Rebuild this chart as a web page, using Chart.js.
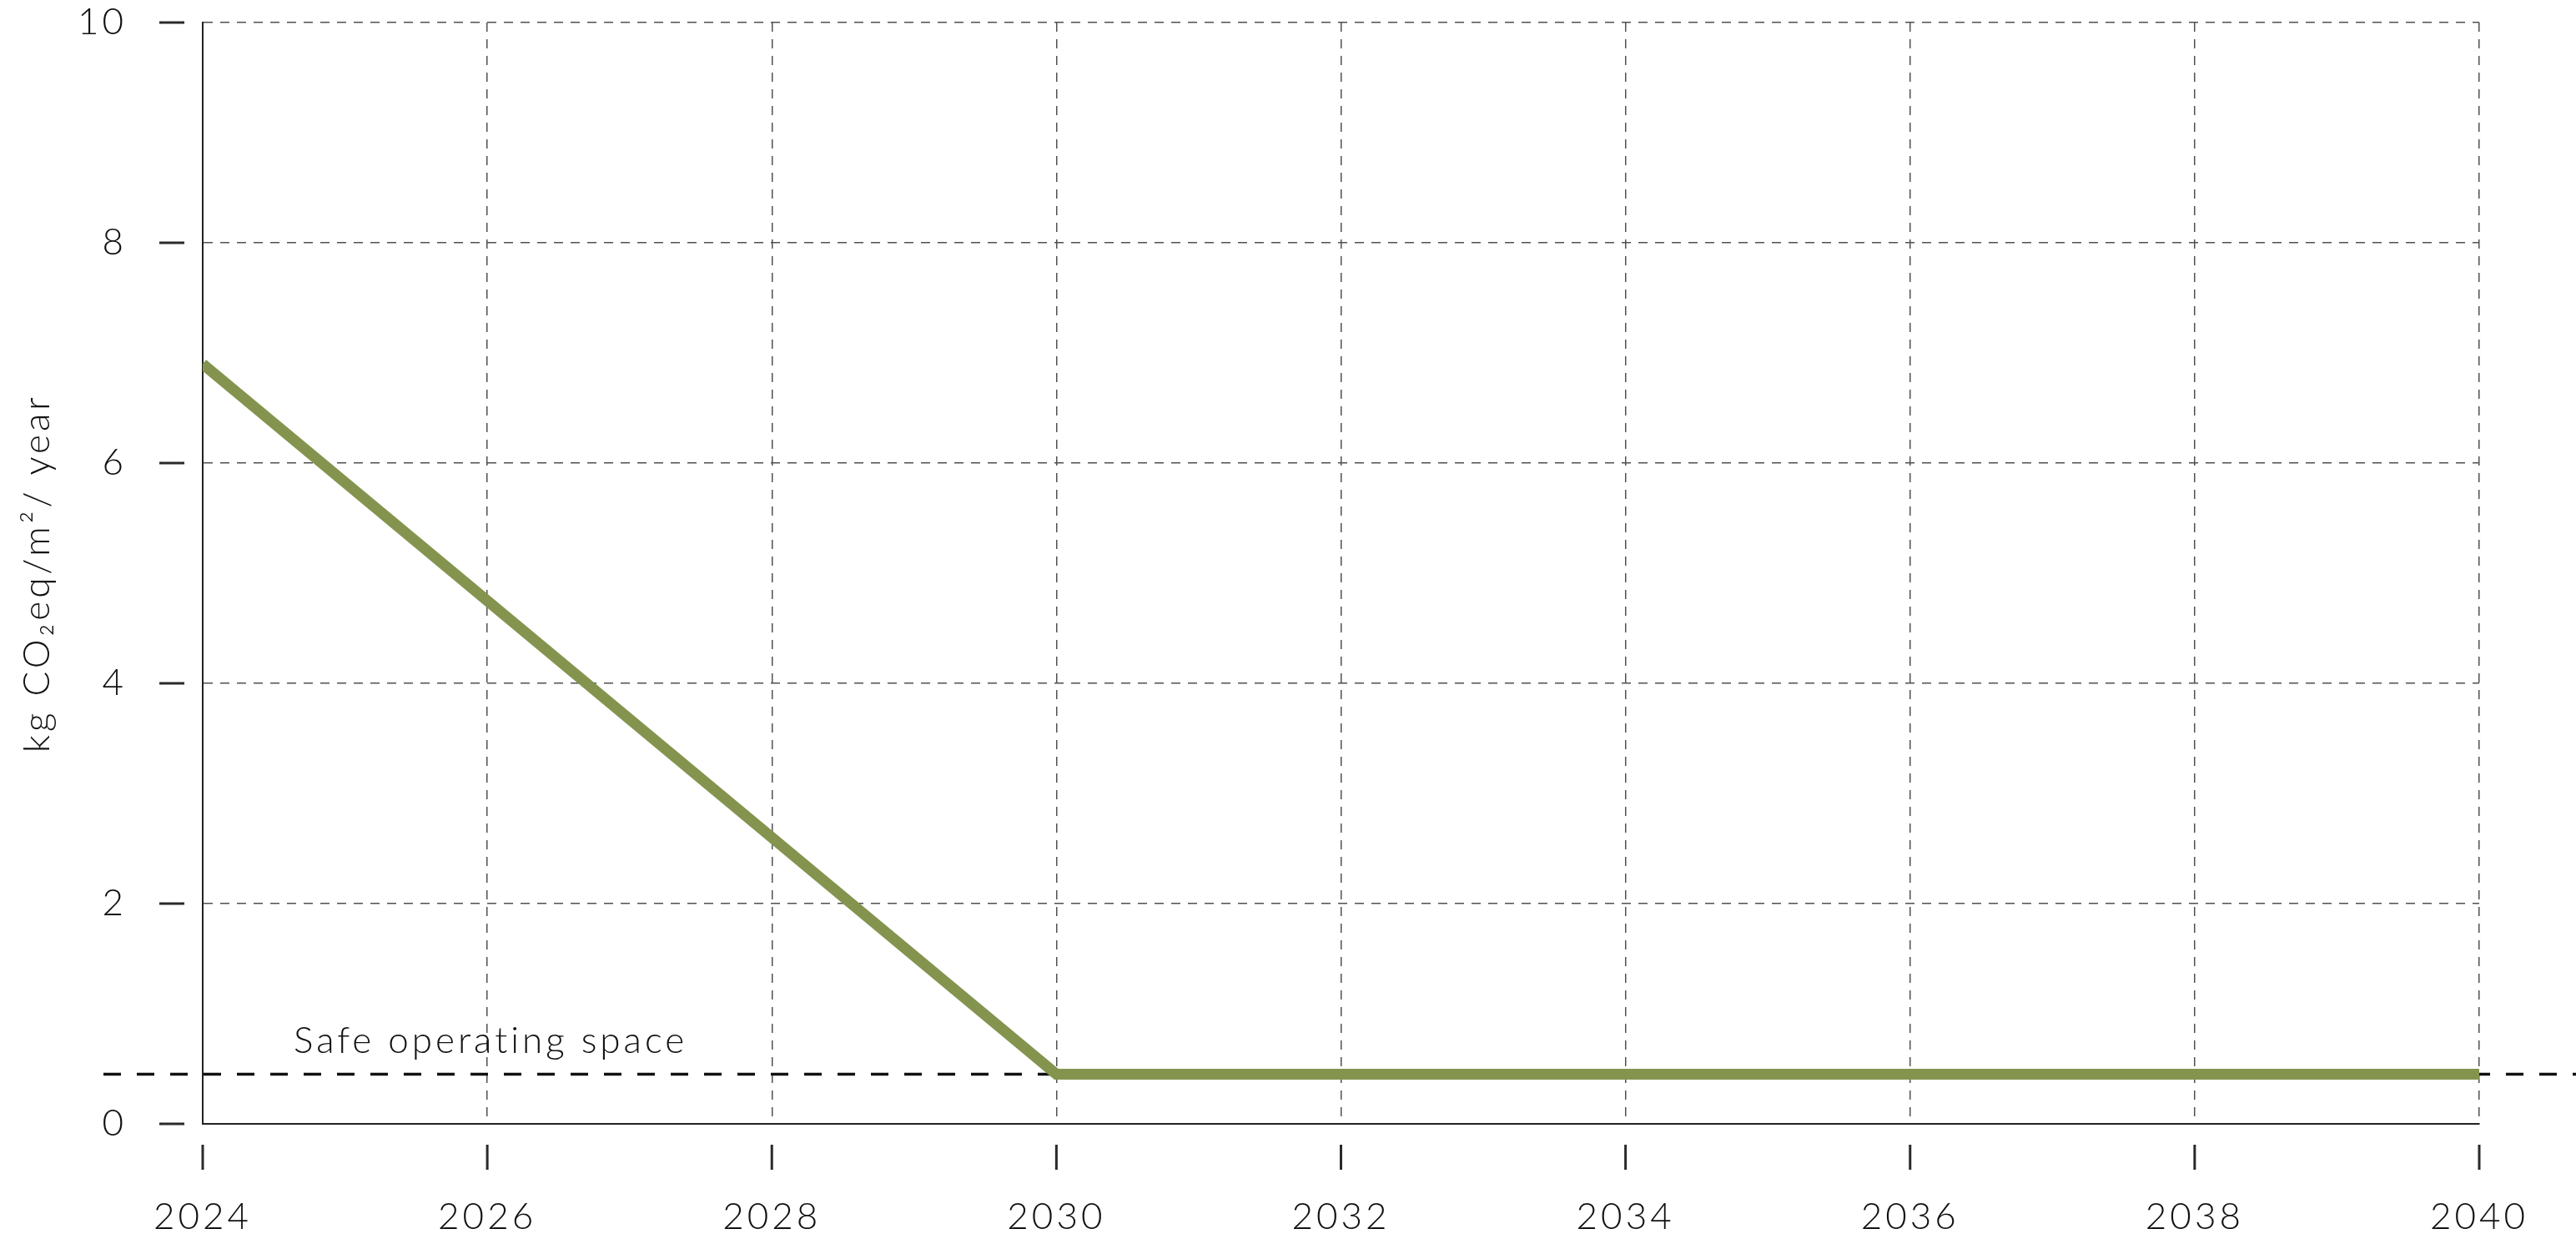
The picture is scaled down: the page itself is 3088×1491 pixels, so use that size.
<!DOCTYPE html>
<html>
<head>
<meta charset="utf-8">
<script src="https://cdn.jsdelivr.net/npm/chart.js@4/dist/chart.umd.min.js"></script>
<style>
  html, body { margin: 0; padding: 0; background: #fff; }
  canvas { display: block; }
</style>
</head>
<body>
<canvas id="co2Chart" width="3088" height="1491"></canvas>
<script>
// data
const years = [2024, 2030, 2040]
const emissions = [6.9, 0.45, 0.45]
const safeLevel = 0.45
const safeLabel = 'Safe operating space'
const xTickValues = [2024, 2026, 2028, 2030, 2032, 2034, 2036, 2038, 2040]
const yTickValues = [0, 2, 4, 6, 8, 10]
const yTitle = 'kg CO\u2082eq/m\u00b2/ year'

const fontFamily = 'Lato, "Open Sans", sans-serif'
const inkColor = '#111'
const gridColor = '#505050'

// tick marks sit a bit away from the axes, and the safe line runs past the plot
const extrasPlugin = {
  id: 'extras',
  beforeDraw(chart) {
    // the original font is wide, so spread the letters a little
    chart.ctx.letterSpacing = '4px'
  },
  beforeDatasetsDraw(chart) {
    const ctx = chart.ctx
    const area = chart.chartArea
    const y = chart.scales.y.getPixelForValue(safeLevel)
    ctx.save()
    ctx.strokeStyle = '#111'
    ctx.lineWidth = 3.5
    ctx.setLineDash([21, 19])
    ctx.beginPath()
    ctx.moveTo(area.left - 119, y)
    ctx.lineTo(chart.width, y)
    ctx.stroke()
    ctx.setLineDash([])
    ctx.fillStyle = inkColor
    ctx.font = '300 44px ' + fontFamily
    ctx.textAlign = 'left'
    ctx.textBaseline = 'alphabetic'
    ctx.fillText(safeLabel, area.left + 109, y - 26)
    ctx.restore()
  },
  afterDraw(chart) {
    const ctx = chart.ctx
    const area = chart.chartArea
    ctx.save()
    ctx.strokeStyle = '#2a2a2a'
    ctx.lineWidth = 3
    ctx.beginPath()
    yTickValues.forEach(v => {
      const py = chart.scales.y.getPixelForValue(v)
      ctx.moveTo(area.left - 52, py)
      ctx.lineTo(area.left - 22, py)
    })
    xTickValues.forEach(v => {
      const px = chart.scales.x.getPixelForValue(v)
      ctx.moveTo(px, area.bottom + 25)
      ctx.lineTo(px, area.bottom + 55)
    })
    ctx.stroke()
    ctx.restore()
  }
}

const ctx = document.getElementById('co2Chart')

new Chart(ctx, {
  type: 'line',
  data: {
    datasets: [{
      label: 'Emissions',
      data: years.map((yr, i) => ({ x: yr, y: emissions[i] })),
      borderColor: '#84944f',
      borderWidth: 13,
      pointRadius: 0,
      tension: 0,
      fill: false
    }]
  },
  options: {
    responsive: false,
    animation: false,
    devicePixelRatio: 1,
    layout: {
      padding: { top: 27, right: 116, left: 0, bottom: 0 }
    },
    plugins: {
      legend: { display: false },
      tooltip: { enabled: false }
    },
    scales: {
      x: {
        type: 'linear',
        min: 2024,
        max: 2040,
        afterBuildTicks: scale => { scale.ticks = xTickValues.map(v => ({ value: v })) },
        afterFit: scale => {
          scale.height = 144
          scale.paddingLeft = 0
          scale.paddingRight = 0
        },
        grid: { color: gridColor, lineWidth: 1.5, drawTicks: false },
        border: { display: true, color: '#222', width: 2, dash: [11, 9] },
        ticks: {
          padding: 85,
          color: inkColor,
          maxRotation: 0,
          autoSkip: false,
          font: { family: fontFamily, size: 44, weight: 300 },
          callback: v => String(v)
        }
      },
      y: {
        min: 0,
        max: 10,
        afterBuildTicks: scale => { scale.ticks = yTickValues.map(v => ({ value: v })) },
        afterFit: scale => {
          scale.width = 243
          scale.paddingTop = 0
          scale.paddingBottom = 0
        },
        grid: { color: gridColor, lineWidth: 1.5, drawTicks: false },
        border: { display: true, color: '#222', width: 2, dash: [11, 9] },
        ticks: {
          padding: 91,
          color: inkColor,
          font: { family: fontFamily, size: 44, weight: 300 }
        },
        title: {
          display: true,
          text: yTitle,
          color: inkColor,
          padding: { top: 18, bottom: 0 },
          font: { family: fontFamily, size: 44, weight: 300 }
        }
      }
    }
  },
  plugins: [extrasPlugin]
})
</script>
</body>
</html>
